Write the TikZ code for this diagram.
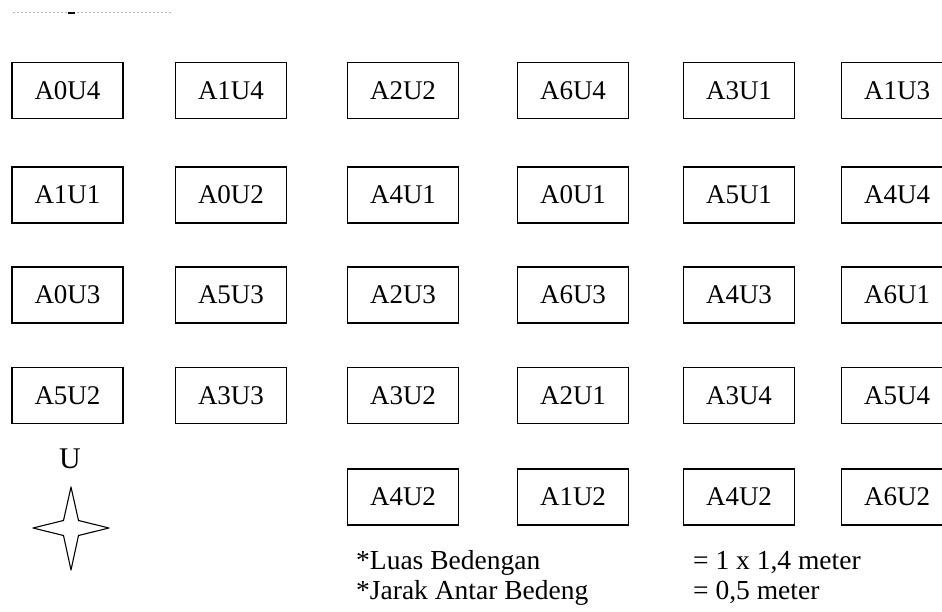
\documentclass[tikz,border=0pt]{standalone}
\usepackage{fontspec}
\setmainfont{Liberation Serif}

\tikzset{
	bed/.style={shape=rectangle,draw=black,line width=1.1pt,minimum width=111pt,minimum height=56pt,inner sep=0pt,font=\fontsize{27}{30}\selectfont},
	note/.style={anchor=base west,inner sep=0pt,font=\fontsize{27.5}{30}\selectfont}
}

\begin{document}
\begin{tikzpicture}[x=1pt,y=-1pt]
	
	\clip (0,0) rectangle (942,612);
	\fill[white] (0,0) rectangle (942,612);
	
	% remnant of the cut-off line above
	\draw[gray!55,line width=1pt,dash pattern=on 1.5pt off 2.5pt] (13,13) -- (172,13);
	\draw[black,line width=2pt] (68,13.5) -- (75,13.5);
	
	\node[bed] (a0u4) at (67.5, 90.5)  {A0U4};
	\node[bed] (a1u4) at (231, 90.5)   {A1U4};
	\node[bed] (a2u2) at (403, 90.5)   {A2U2};
	\node[bed] (a6u4) at (573, 90.5)   {A6U4};
	\node[bed] (a3u1) at (739, 90.5)   {A3U1};
	\node[bed] (a1u3) at (897, 90.5)   {A1U3};
	
	\node[bed] (a1u1) at (67.5, 195)   {A1U1};
	\node[bed] (a0u2) at (231, 195)    {A0U2};
	\node[bed] (a4u1) at (403, 195)    {A4U1};
	\node[bed] (a0u1) at (573, 195)    {A0U1};
	\node[bed] (a5u1) at (739, 195)    {A5U1};
	\node[bed] (a4u4) at (897, 195)    {A4U4};
	
	\node[bed] (a0u3) at (67.5, 295)   {A0U3};
	\node[bed] (a5u3) at (231, 295)    {A5U3};
	\node[bed] (a2u3) at (403, 295)    {A2U3};
	\node[bed] (a6u3) at (573, 295)    {A6U3};
	\node[bed] (a4u3) at (739, 295)    {A4U3};
	\node[bed] (a6u1) at (897, 295)    {A6U1};
	
	\node[bed] (a5u2) at (67.5, 395.5) {A5U2};
	\node[bed] (a3u3) at (231, 395.5)  {A3U3};
	\node[bed] (a3u2) at (403, 395.5)  {A3U2};
	\node[bed] (a2u1) at (573, 395.5)  {A2U1};
	\node[bed] (a3u4) at (739, 395.5)  {A3U4};
	\node[bed] (a5u4) at (897, 395.5)  {A5U4};
	
	\node[bed] (a4u2)  at (403, 497)   {A4U2};
	\node[bed] (a1u2)  at (573, 497)   {A1U2};
	\node[bed] (a4u2b) at (739, 497)   {A4U2};
	\node[bed] (a6u2)  at (897, 497)   {A6U2};
	
	% north sign
	\node[anchor=base,inner sep=0pt,font=\fontsize{30}{32}\selectfont] (u) at (70, 468) {U};
	\draw[line width=1.1pt,line join=round] (71,487) -- (78.5,520.5) -- (109,528) -- (78.5,535.5)
		-- (71,570) -- (63.5,535.5) -- (33,528) -- (63.5,520.5) -- cycle;
	
	\node[note] (luas)   at (356, 569) {*Luas Bedengan};
	\node[note] (jarak)  at (356, 599) {*Jarak Antar Bedeng};
	\node[note] (luasv)  at (693, 569) {= 1 x 1,4 meter};
	\node[note] (jarakv) at (693, 599) {= 0,5 meter};
	
\end{tikzpicture}
\end{document}
